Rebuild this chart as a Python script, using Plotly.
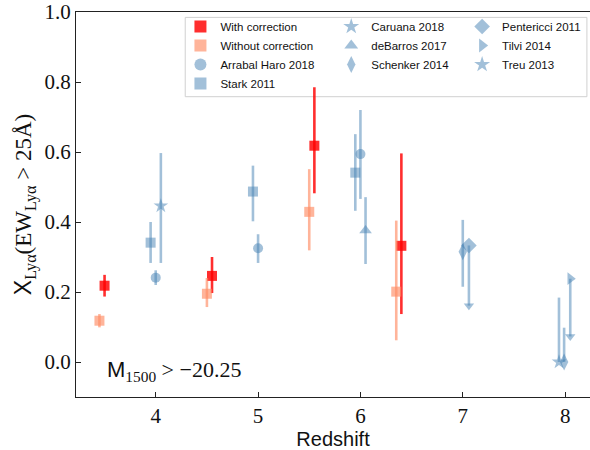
import plotly.graph_objects as go

# ---------------- data ----------------
corr_z = [3.50, 4.55, 5.55, 6.40]
corr_x = [0.218, 0.246, 0.618, 0.332]
corr_up = [0.031, 0.054, 0.167, 0.264]
corr_lo = [0.031, 0.049, 0.136, 0.195]

nocorr_z = [3.45, 4.50, 5.50, 6.35]
nocorr_x = [0.118, 0.195, 0.429, 0.201]
nocorr_up = [0.019, 0.045, 0.122, 0.203]
nocorr_lo = [0.019, 0.038, 0.110, 0.139]

arrabal_z = [4.00, 5.00, 6.00]
arrabal_x = [0.241, 0.325, 0.594]
arrabal_up = [0.021, 0.040, 0.126]
arrabal_lo = [0.021, 0.042, 0.128]

stark_z = [3.95, 4.95, 5.95]
stark_x = [0.341, 0.487, 0.541]
stark_up = [0.059, 0.074, 0.110]
stark_lo = [0.058, 0.085, 0.109]

caruana_z = [4.05]
caruana_x = [0.446]
caruana_up = [0.151]
caruana_lo = [0.163]

debarros_z = [6.05]
debarros_x = [0.376]
debarros_up = [0.095]
debarros_lo = [0.096]

schenker_z = [7.00, 7.99]
schenker_x = [0.315, 0.0]
schenker_up = [0.091, 0.098]
schenker_lo = [0.100, 0.0]

pentericci_z = [7.06]
pentericci_x = [0.333]
pentericci_lim = [0.172]      # upper limit, arrow length

tilvi_z = [8.05]
tilvi_x = [0.238]
tilvi_lim = [0.165]           # upper limit, arrow length

treu_z = [7.94]
treu_x = [0.0]
treu_up = [0.184]
treu_lo = [0.0]

x_ticks = [4, 5, 6, 7, 8]
y_ticks = [0.0, 0.2, 0.4, 0.6, 0.8, 1.0]

# ---------------- styles ----------------
RED = "rgba(255,0,0,0.82)"
SALMON = "rgba(255,140,100,0.65)"
BLUE = "rgba(70,130,180,0.5)"
SANS = "Liberation Sans"
SERIF = "Liberation Serif"

fig = go.Figure()


def add_err(name, z, v, up, lo, color, symbol, size, legend):
    fig.add_trace(go.Scatter(
        x=z, y=v, mode="markers", name=name, legend=legend,
        marker=dict(symbol=symbol, size=size, color=color, line=dict(width=0)),
        error_y=dict(type="data", symmetric=False, array=up, arrayminus=lo,
                     color=color, thickness=2.6, width=0),
    ))


def add_lim(name, z, v, lim, color, symbol, size, legend):
    fig.add_trace(go.Scatter(
        x=z, y=v, mode="markers", name=name, legend=legend,
        marker=dict(symbol=symbol, size=size, color=color, line=dict(width=0)),
        error_y=dict(type="data", symmetric=False, array=[0] * len(v), arrayminus=lim,
                     color=color, thickness=2.6, width=0),
    ))
    fig.add_trace(go.Scatter(
        x=z, y=[a - b for a, b in zip(v, lim)], mode="markers", showlegend=False,
        legend=legend, hoverinfo="skip",
        marker=dict(symbol="triangle-down", size=9, color=color, line=dict(width=0)),
    ))


add_err("With correction", corr_z, corr_x, corr_up, corr_lo, RED, "square", 10, "legend")
add_err("Without correction", nocorr_z, nocorr_x, nocorr_up, nocorr_lo, SALMON, "square", 10, "legend")
add_err("Arrabal Haro 2018", arrabal_z, arrabal_x, arrabal_up, arrabal_lo, BLUE, "circle", 10, "legend")
add_err("Stark 2011", stark_z, stark_x, stark_up, stark_lo, BLUE, "square", 10, "legend")
add_err("Caruana 2018", caruana_z, caruana_x, caruana_up, caruana_lo, BLUE, "star", 11, "legend2")
add_err("deBarros 2017", debarros_z, debarros_x, debarros_up, debarros_lo, BLUE, "triangle-up", 11, "legend2")
add_err("Schenker 2014", schenker_z, schenker_x, schenker_up, schenker_lo, BLUE, "diamond-tall", 12, "legend2")
add_lim("Pentericci 2011", pentericci_z, pentericci_x, pentericci_lim, BLUE, "diamond", 12, "legend3")
add_lim("Tilvi 2014", tilvi_z, tilvi_x, tilvi_lim, BLUE, "triangle-right", 11, "legend3")
add_err("Treu 2013", treu_z, treu_x, treu_up, treu_lo, BLUE, "star", 11, "legend3")

legend_common = dict(
    yanchor="top", xanchor="left", y=1.0,
    bgcolor="rgba(0,0,0,0)", borderwidth=0,
    font=dict(family=SANS, size=11.5, color="#111"),
    tracegroupgap=0, itemsizing="constant",
)

fig.update_layout(
    width=590, height=450,
    margin=dict(l=75.7, r=0, t=12, b=52.7, autoexpand=False),
    paper_bgcolor="white", plot_bgcolor="white",
    showlegend=True,
    legend=dict(x=0.2032, **legend_common),
    legend2=dict(x=0.4966, **legend_common),
    legend3=dict(x=0.7512, **legend_common),
    xaxis=dict(
        range=[3.221, 8.243], tickvals=x_ticks, ticktext=[str(t) for t in x_ticks],
        ticks="inside", ticklen=5, tickwidth=1.2, tickcolor="#222",
        showline=True, linecolor="#222", linewidth=1.3, mirror=True,
        showgrid=False, zeroline=False, automargin=False,
        tickfont=dict(family=SERIF, size=21, color="#111"),
        title=dict(text="Redshift", font=dict(family=SANS, size=20, color="#111"), standoff=6),
    ),
    yaxis=dict(
        range=[-0.1, 1.0], tickvals=y_ticks, ticktext=[f"{t:.1f}" for t in y_ticks],
        ticks="inside", ticklen=5, tickwidth=1.2, tickcolor="#222",
        showline=True, linecolor="#222", linewidth=1.3, mirror=False,
        showgrid=False, zeroline=False, automargin=False,
        tickfont=dict(family=SERIF, size=21, color="#111"),
        title=dict(
            text=f"<span style='font-family:{SANS}'>X</span><sub>Lyα</sub>(EW<sub>Lyα</sub> &gt; 25Å)",
            font=dict(family=SERIF, size=23, color="#111"), standoff=6),
    ),
    shapes=[dict(type="rect", xref="paper", yref="paper",
                 x0=0.2125, x1=0.994, y0=0.78, y1=0.986,
                 line=dict(color="#d0d0d0", width=1), fillcolor="rgba(255,255,255,0.8)",
                 layer="below")],
    annotations=[dict(
        xref="paper", yref="paper", x=0.057, y=0.068, xanchor="left", yanchor="middle",
        showarrow=False,
        text=f"<span style='font-family:{SANS}'>M</span><sub>1500</sub> &gt; −20.25",
        font=dict(family=SERIF, size=22, color="#111"),
    )],
)

fig.write_html("out.html", config={"displayModeBar": False},
               post_script="document.body.style.margin='0';document.body.style.padding='0';")
